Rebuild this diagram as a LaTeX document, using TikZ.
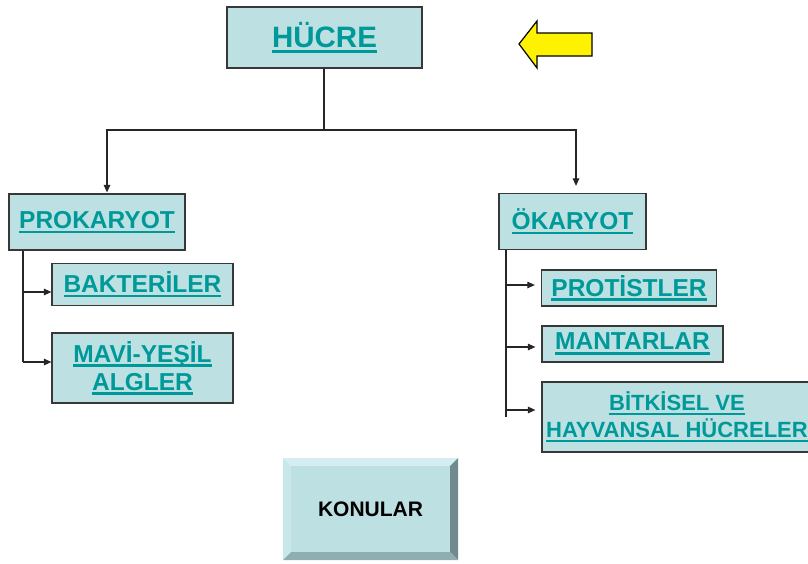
\documentclass[tikz,border=0pt]{standalone}
\usepackage{fontspec}
\setmainfont{Liberation Sans}
\usetikzlibrary{arrows.meta}

\definecolor{boxfill}{HTML}{BDE0E3}
\definecolor{linkteal}{HTML}{009999}
\definecolor{frame}{HTML}{383838}
\definecolor{bevellight}{HTML}{D4EDF0}
\definecolor{bevelside}{HTML}{C9E6E9}
\definecolor{beveldark}{HTML}{6F8B8E}
\definecolor{bevelbottom}{HTML}{8EAEB1}

% underlined link text with a thick rule
\newsavebox\lnkbox
\newcommand\lnk[1]{\sbox\lnkbox{#1}\rlap{\usebox\lnkbox}\rule[-0.2em]{\wd\lnkbox}{0.1em}}

\tikzset{
  topicbox/.style={draw=frame, line width=1.2pt, fill=boxfill, inner sep=0pt,
    text=linkteal, align=center, font=\bfseries\fontsize{24.5}{28}\selectfont},
  conn/.style={draw=black!85, line width=1.1pt},
  arr/.style={conn, -{Triangle[length=7.5pt,width=6.5pt]}},
}

\begin{document}
\begin{tikzpicture}[x=1pt,y=-1pt]
  \useasboundingbox (0,0) rectangle (808,563);
  \clip (0,0) rectangle (808,563);

  % main topic
  \node[topicbox, minimum width=195, minimum height=61,
        font=\bfseries\fontsize{29.5}{32}\selectfont] (hucre) at (324.5,37.5) {\lnk{HÜCRE}};

  % pointer arrow
  \filldraw[fill=yellow, draw=black, line width=1.2pt, line join=miter]
    (519,44) -- (537,21) -- (537,33) -- (592,33) -- (592,56) -- (537,56) -- (537,68) -- cycle;

  % two kinds of cells
  \node[topicbox, minimum width=176, minimum height=56] (prok) at (97,222) {\lnk{PROKARYOT}};
  \node[topicbox, minimum width=147, minimum height=56] (okar) at (572.5,221.5) {\lnk{ÖKARYOT}};

  % prokaryote groups
  \node[topicbox, minimum width=181, minimum height=42] (bakt) at (142.5,284.5) {\lnk{BAKTERİLER}};
  \node[topicbox, minimum width=181, minimum height=70] (mavi) at (142.5,368) {\lnk{MAVİ-YEŞİL}\\\lnk{ALGLER}};

  % eukaryote groups
  \node[topicbox, minimum width=175, minimum height=36] (prot) at (629,288) {\lnk{PROTİSTLER}};
  \node[topicbox, minimum width=181, minimum height=36] (mant) at (632.5,344) {\lnk{MANTARLAR}};
  \node[topicbox, minimum width=270, minimum height=70,
        font=\bfseries\fontsize{22}{27}\selectfont] (bitk) at (677,417) {\lnk{BİTKİSEL VE}\\\lnk{HAYVANSAL HÜCRELER}};

  % tree connectors
  \coordinate (j) at (324,130);
  \draw[conn] (hucre.south -| j) -- (j);
  \draw[arr, shorten >=1pt] (j) -| ([xshift=10]prok.north);
  \draw[arr, shorten >=7pt] (j) -| ([xshift=3.5]okar.north);

  \coordinate (pk1) at (23,292);
  \coordinate (pk2) at (23,362);
  \draw[conn] (prok.south -| pk1) -- (pk2);
  \draw[arr] (pk1) -- (pk1 -| bakt.west);
  \draw[arr] (pk2) -- (pk2 -| mavi.west);

  \coordinate (ok1) at (506,285);
  \coordinate (ok2) at (506,347);
  \coordinate (ok3) at (506,410);
  \coordinate (okend) at (506,417);
  \draw[conn] (okar.south -| ok1) -- (okend);
  \draw[arr, shorten >=6pt] (ok1) -- (ok1 -| prot.west);
  \draw[arr, shorten >=6pt] (ok2) -- (ok2 -| mant.west);
  \draw[arr, shorten >=6pt] (ok3) -- (ok3 -| bitk.west);

  % bevelled button
  \fill[bevellight] (283,458) -- (458,458) -- (450,466) -- (291,466) -- cycle;
  \fill[bevelside] (283,458) -- (291,466) -- (291,552) -- (283,560) -- cycle;
  \fill[beveldark] (458,458) -- (458,560) -- (450,552) -- (450,466) -- cycle;
  \fill[bevelbottom] (283,560) -- (458,560) -- (450,552) -- (291,552) -- cycle;
  \node[fill=boxfill, minimum width=159, minimum height=86, inner sep=0pt,
        font=\bfseries\fontsize{21}{24}\selectfont] (konu) at (370.5,509) {KONULAR};
\end{tikzpicture}
\end{document}
